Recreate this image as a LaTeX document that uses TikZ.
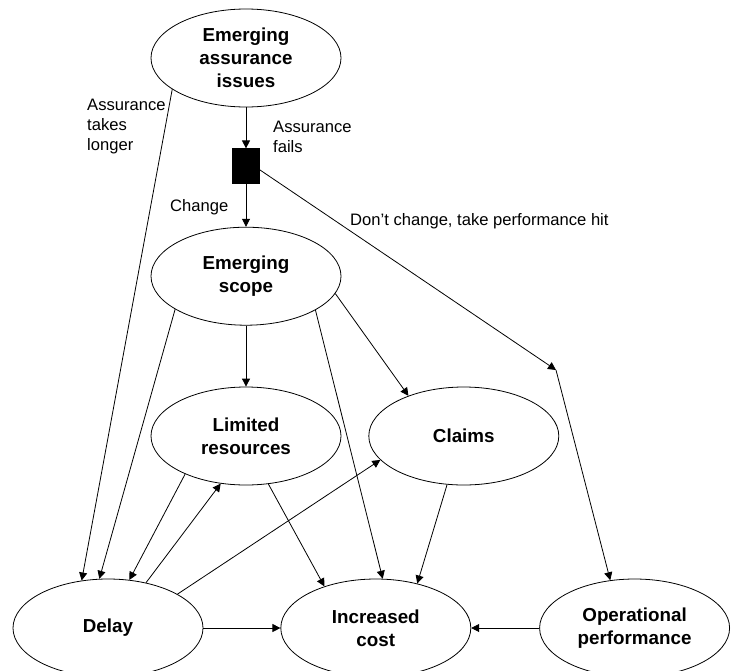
\documentclass[tikz,border=0pt]{standalone}
\usepackage{fontspec}
\setmainfont{Liberation Sans}
\usetikzlibrary{arrows.meta,positioning,shapes.geometric}
\tikzset{
  issue/.style={ellipse,draw,line width=0.8pt,minimum width=190pt,minimum height=98pt,inner sep=0pt,align=center,font=\fontsize{18.8}{23}\selectfont\bfseries},
  gate/.style={rectangle,draw,fill=black,minimum width=27pt,minimum height=35pt,inner sep=0pt},
  lbl/.style={inner sep=0pt,align=left,font=\fontsize{16.6}{20}\selectfont},
  arr/.style={-{Triangle[length=8pt,width=8pt]},line width=0.8pt},
}
\begin{document}
\begin{tikzpicture}[x=1pt,y=-1pt]
  \useasboundingbox (0,0) rectangle (733,670);
  \node[issue] (assur) at (246,58) {Emerging\\assurance\\issues};
  \node[gate,below=41pt of assur] (gate) {};
  \node[issue,below=43pt of gate] (scope) {Emerging\\scope};
  \node[issue,below=61pt of scope] (limres) {Limited\\resources};
  \node[issue,right=27pt of limres] (claims) {Claims};
  \node[issue] (delay) at (108,628) {Delay};
  \node[issue,right=77pt of delay] (cost) {Increased\\cost};
  \node[issue,right=68pt of cost] (opperf) {Operational\\performance};
  \coordinate (hit) at (556,370);
  % labels
  \node[lbl,anchor=north west] (lbllonger) at (87,99) {Assurance\\takes\\longer};
  \node[lbl,anchor=north west] (lblfails) at (273,121) {Assurance\\fails};
  \node[lbl,anchor=north west] (lblchange) at (170,199) {Change};
  \node[lbl,anchor=north west] (lblhit) at (350,213) {Don’t change, take performance hit};
  % decision
  \draw[arr] (assur.south) -- (gate.north);
  \draw[arr] (gate.south) -- (scope.north);
  \draw[arr] (gate.-15) -- (hit);
  \draw[arr] (hit) -- (opperf.117);
  % into delay
  \draw[arr] (assur.203) -- (delay.119);
  \draw[arr] (scope.205) -- (delay.100);
  \draw[arr] (limres.212) -- (delay.66);
  % from scope
  \draw[arr] (scope.south) -- (limres.north);
  \draw[arr] (scope.-11) -- (claims.144);
  \draw[arr] (scope.-26) -- (cost.82);
  % delay feeds back
  \draw[arr] (delay.50) -- (limres.242);
  \draw[arr] (delay.26) -- (claims.196);
  % into cost
  \draw[arr] (limres.-65) -- (cost.141);
  \draw[arr] (claims.251) -- (cost.47);
  \draw[arr] (delay.east) -- (cost.west);
  \draw[arr] (opperf.west) -- (cost.east);
\end{tikzpicture}
\end{document}
